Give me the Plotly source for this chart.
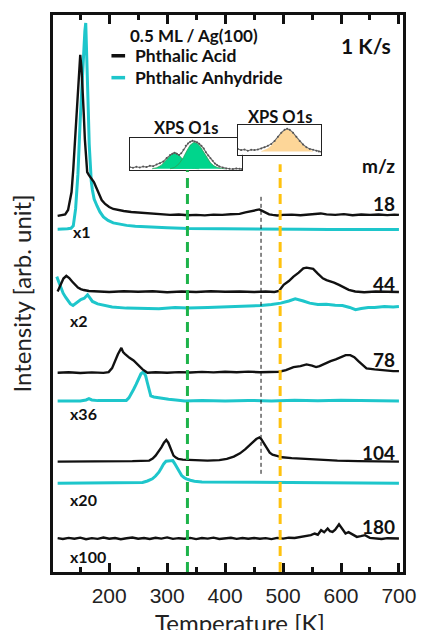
import plotly.graph_objects as go

# ---------------- data (temperature in K, intensity in arb. units, offset stacked) ----------------
acid_18_T = [111, 118, 124, 129, 132, 135, 138, 140.5, 143, 146, 148, 150, 152, 154, 156, 158, 160, 162, 165, 169,
             173.6, 178, 182, 187, 193, 200, 207, 215, 225, 238, 250, 262, 275, 290, 305, 320, 336, 350, 365, 380,
             395, 410, 425, 435, 442, 448, 454, 459, 464, 470, 476, 482, 490, 500, 515, 530, 545, 555, 565, 575,
             590, 605, 620, 635, 650, 665, 680, 692, 700]
acid_18_I = [358, 358.5, 359.5, 364, 372, 382, 405, 430, 462, 492, 508, 520, 508, 490, 462, 435, 412, 402, 399, 396,
             392, 386, 380, 374, 370, 367, 365, 364, 363, 362, 361.5, 360.5, 360, 359.5, 359, 359.5, 358.7, 359, 358.5, 359.3,
             359, 359.7, 360, 361.5, 362.5, 363.5, 364, 364.5, 363, 361, 359.5, 359, 358.5, 359, 359.3, 358.7, 359.5, 360, 360.5, 359.5,
             359, 359.8, 358.7, 359.5, 359, 359.5, 358.8, 359.3, 359]

anhydride_18_T = [111, 120, 128, 134, 138, 142, 146, 150, 153, 156, 158, 159.5, 161, 162.5, 164, 165.5, 167, 169, 171,
                  174, 179, 184, 190, 198, 207, 218, 230, 245, 260, 280, 300, 336, 380, 430, 480, 530, 580, 630, 700]
anhydride_18_I = [344.7, 344.7, 345, 345.5, 348, 365, 400, 455, 492, 525, 544, 552, 528, 500, 462, 430, 408, 393, 384,
                  375, 368, 362, 357, 353.5, 351, 349.5, 348.5, 347.5, 347, 346.5, 346, 345.3, 345, 344.8, 344.6, 344.5, 344.4, 344.3, 344.3]

acid_44_T = [111, 116, 121, 126, 131, 136, 141, 146, 151, 156, 165, 180, 200, 225, 250, 275, 300, 325, 350, 375,
             400, 425, 450, 470, 485, 493, 501, 510, 518, 527, 535, 540.5, 546, 552, 560, 568.6, 575, 580, 588, 596.6,
             605, 613.4, 624.5, 640, 660, 680, 700]
acid_44_I = [282, 289, 295, 297.7, 295.5, 292, 289, 286, 284.5, 283.5, 282.5, 282.2, 281.5, 282.3, 281.7, 282.3, 281.3, 282, 281.5, 282.3,
             281.7, 282, 281.5, 282, 281.5, 282.5, 288.7, 292.5, 297, 301, 305.3, 306, 305.5, 304.7, 300, 295.3, 293.5, 292.7, 291, 288.7,
             286, 283.7, 282, 281.3, 282, 281.5, 281.5]

anhydride_44_T = [109.5, 115, 120.5, 125, 129, 133, 137.5, 142, 146, 151, 157, 162.6, 166, 171, 180, 190.5, 205, 229.6, 260, 285.7,
                  313.6, 336, 370, 400, 430, 462, 480, 496, 510, 521, 535, 546, 560, 574.5, 590, 602.5, 615, 625, 635, 647,
                  658, 675, 690, 700]
anhydride_44_I = [297, 288, 280.3, 276, 272, 269.5, 268, 270, 272, 274, 275.3, 278.7, 276, 272, 269.5, 268, 266.5, 265.3, 264.8, 264.7,
                  266, 265.3, 265.8, 266.5, 267, 268, 269, 270.3, 272.5, 274.7, 272.5, 270.3, 269, 269.3, 268.3, 268, 266, 263.7, 265, 266,
                  266, 267, 266.5, 267]

acid_78_T = [111, 130, 150, 170, 190, 199, 205, 210, 215, 221, 224, 227, 231, 235, 242, 249, 257.6, 266, 280, 300,
             320, 340, 360, 380, 400, 420, 440, 460, 480, 493, 505, 518, 530, 540.5, 550, 557, 563, 568, 574, 582,
             591, 600, 608, 616, 623, 630, 637, 644, 658, 670, 680.6, 690, 700]
acid_78_I = [200.3, 200.8, 200, 200.7, 200.2, 201, 205, 212, 219, 225.3, 221, 219.3, 217, 215.3, 212.7, 208.7, 203.7, 200.3, 200.8, 200.3,
             201, 200.5, 201.2, 200.7, 201.3, 200.8, 201.5, 200.8, 201.3, 201.3, 203, 206, 207, 208.7, 207.5, 206, 207, 208.5, 210.3, 212,
             213.7, 216, 218, 218, 216, 212, 208, 204.7, 203.7, 203, 202.7, 202, 202]

anhydride_78_T = [111, 130, 150, 160, 165, 170, 180, 200, 215, 229.6, 234, 238, 242, 246.4, 250.5, 254.8, 259.3, 263, 265.5, 267.7,
                  270, 271.7, 277, 283, 292, 302.5, 315, 330.6, 360, 400, 440, 480, 520, 560, 600, 640, 680, 700]
anhydride_78_I = [172, 172.3, 172, 173, 174.3, 173, 172.3, 172.5, 172.2, 172.5, 175, 178.7, 183.5, 188.7, 194, 199.3, 201.3, 197, 191, 185.3,
                  180, 177, 176, 175.3, 174.5, 173.7, 173, 172, 172.3, 172, 172.5, 172, 172.6, 172.2, 172.8, 172.3, 172, 172]

acid_104_T = [111, 150, 200, 240, 269, 275, 280, 285, 290, 294.5, 298.5, 302, 305, 308, 311, 315, 319, 327, 336, 350,
              369.7, 390, 403, 415, 425.7, 435, 442.5, 448, 453.8, 459.3, 462.5, 466, 469.5, 473, 477, 481.8, 490, 498.5, 515, 537.8,
              565, 593.8, 630, 670, 700]
acid_104_I = [111, 111, 111.3, 111.5, 112, 114, 117, 121, 125.3, 130, 132.7, 130, 125.3, 121, 117, 115, 113.7, 113, 112.7, 112.3,
              112, 112.5, 113.7, 116, 119.3, 123.5, 127, 130.5, 133.7, 135.3, 133.5, 130.3, 126.5, 122.7, 120, 118, 116.5, 115.3, 114.5, 113.7,
              112.7, 112, 111.5, 111.2, 111]

anhydride_104_T = [111, 150, 200, 240, 257.6, 266, 274.5, 280, 285.7, 290, 294, 298, 301, 305, 309.7, 313, 316.5, 320.5, 325, 329,
                   333, 340, 347, 360, 400, 450, 500, 550, 600, 650, 700]
anhydride_104_I = [89.3, 89.5, 89.3, 89.6, 90, 91.5, 93.7, 96.5, 100.3, 104.5, 108.7, 111.3, 111.5, 111.3, 112, 109, 105.3, 100.5, 97, 95,
                   93.7, 92.3, 91.3, 90.5, 90.3, 90, 89.8, 89.6, 89.5, 89.4, 89.3]

acid_180_T = [111, 120, 130, 140, 150, 160, 170, 180, 190, 200, 210, 220, 230, 240, 250, 260, 270, 280, 290, 300,
              310, 320, 330, 340, 350, 360, 370, 380, 390, 400, 410, 420, 430, 440, 450, 460, 470, 480, 490, 500,
              510, 520, 532, 540, 548, 554.6, 560, 565.7, 571, 577, 581, 585.4, 590, 596.6, 602, 607.8, 613, 619, 627.4, 634,
              641.5, 649.8, 660, 670, 680, 690, 700]
acid_180_I = [34, 33.2, 34.3, 33.5, 34.5, 33, 34, 33.3, 34.6, 33.4, 34.2, 33, 33.9, 34.7, 33.5, 34.1, 33.2, 34.4, 33.6, 34.8,
              33.3, 34, 33.5, 34.3, 33.1, 34.2, 33.6, 34.5, 33.2, 33.9, 34.4, 33.3, 34.1, 33.5, 34.2, 33.4, 34, 33.1, 34.3, 33.6,
              34.5, 34.2, 35.3, 36, 37, 38.7, 37.5, 42, 40, 43.7, 41, 40.3, 42.5, 48, 43.7, 38.7, 40, 38, 35.3, 36,
              37, 34.3, 34, 33.2, 34, 33.5, 33.7]

mz_labels = ["18", "44", "78", "104", "180"]
mz_label_y = [0.6607, 0.5179, 0.382, 0.2143, 0.0821]
scale_labels = ["x1", "x2", "x36", "x20", "x100"]
scale_label_x = [0.052, 0.0418, 0.0418, 0.0418, 0.0418]
scale_label_y = [0.6107, 0.4518, 0.2839, 0.1304, 0.0286]

# reference temperatures (XPS markers) and their vertical extents
green_T, green_top = 335, 404
orange_T, orange_top = 495, 410
peak_T, peak_bottom, peak_top = 462, 98.7, 380

# XPS O1s inset data (normalised binding-energy axis 0..100, baseline-subtracted intensity)
xps1_x = [0, 3, 6, 9, 12, 15, 18, 21, 24, 27, 30, 33, 36, 38, 40, 42, 44, 46, 48, 50, 52, 54, 56, 58, 60, 62, 64,
          66, 68, 70, 72, 74, 76, 78, 80, 83, 86, 89, 92, 95, 98, 100]
xps1_y = [0.05, 0.03, 0.06, 0.04, 0.07, 0.05, 0.09, 0.08, 0.13, 0.17, 0.22, 0.33, 0.42, 0.46, 0.49, 0.46, 0.42, 0.47, 0.58,
          0.7, 0.77, 0.82, 0.85, 0.83, 0.81, 0.76, 0.7, 0.62, 0.5, 0.4, 0.32, 0.24, 0.16, 0.11, 0.07, 0.04, 0.01, 0.0, -0.01,
          0.01, 0.0, -0.01]
xps1_c1_x = [20, 24, 28, 32, 35, 38, 40, 42, 45, 48, 51, 54, 58, 62]
xps1_c1_y = [0, 0.03, 0.1, 0.24, 0.36, 0.46, 0.48, 0.47, 0.38, 0.24, 0.12, 0.05, 0.01, 0]
xps1_c2_x = [36, 40, 44, 48, 51, 54, 57, 60, 63, 66, 69, 72, 75, 78, 82, 85]
xps1_c2_y = [0, 0.04, 0.15, 0.35, 0.55, 0.72, 0.8, 0.78, 0.67, 0.5, 0.32, 0.18, 0.09, 0.04, 0.01, 0]

xps2_x = [0, 4, 8, 12, 16, 20, 24, 28, 32, 36, 40, 44, 48, 52, 56, 59, 62, 66, 70, 74, 78, 82, 86, 90, 94, 97, 100]
xps2_y = [0.09, 0.05, 0.07, 0.03, 0.06, 0.05, 0.07, 0.1, 0.15, 0.2, 0.26, 0.36, 0.5, 0.64, 0.74, 0.77, 0.74, 0.64, 0.5,
          0.36, 0.24, 0.15, 0.09, 0.06, 0.03, 0.0, -0.01]
xps2_c_x = [28, 32, 36, 40, 44, 48, 52, 56, 59, 62, 66, 70, 74, 78, 82, 86, 90]
xps2_c_y = [0, 0.04, 0.1, 0.2, 0.33, 0.48, 0.63, 0.73, 0.76, 0.74, 0.64, 0.5, 0.35, 0.22, 0.12, 0.05, 0]

# ---------------- styling ----------------
BLACK = "#111111"
CYAN = "#1EC6CB"
GREEN = "#1DB34A"
ORANGE = "#FFC20E"
FILL_GREEN = "#00D58C"
FILL_ORANGE = "#FDD698"
CAL = "Lato, 'Open Sans', sans-serif"
ARIAL = "'Liberation Sans', Arial, sans-serif"

fig = go.Figure()

acid = [(acid_18_T, acid_18_I), (acid_44_T, acid_44_I), (acid_78_T, acid_78_I),
        (acid_104_T, acid_104_I), (acid_180_T, acid_180_I)]
anh = [(anhydride_18_T, anhydride_18_I), (anhydride_44_T, anhydride_44_I),
       (anhydride_78_T, anhydride_78_I), (anhydride_104_T, anhydride_104_I)]

for (t, i), mz in zip(anh, mz_labels):
    fig.add_trace(go.Scatter(x=t, y=i, mode="lines", name="Phthalic Anhydride m/z " + mz,
                             line=dict(color=CYAN, width=3), showlegend=False))
for (t, i), mz in zip(acid, mz_labels):
    fig.add_trace(go.Scatter(x=t, y=i, mode="lines", name="Phthalic Acid m/z " + mz,
                             line=dict(color=BLACK, width=2.4), showlegend=False))

# vertical reference lines
fig.add_shape(type="line", x0=green_T, x1=green_T, y0=0, y1=green_top, xref="x", yref="y",
              line=dict(color=GREEN, width=3, dash="10px,6px"))
fig.add_shape(type="line", x0=orange_T, x1=orange_T, y0=0, y1=orange_top, xref="x", yref="y",
              line=dict(color=ORANGE, width=3, dash="10px,6px"))
fig.add_shape(type="line", x0=peak_T, x1=peak_T, y0=peak_bottom, y1=peak_top, xref="x", yref="y",
              line=dict(color=BLACK, width=1, dash="4px,3px"))

# inset 1 (green)
fig.add_trace(go.Scatter(x=xps1_c1_x, y=xps1_c1_y, xaxis="x2", yaxis="y2", mode="lines", fill="tozeroy",
                         fillcolor=FILL_GREEN, line=dict(color="#2E9E58", width=0.8), showlegend=False))
fig.add_trace(go.Scatter(x=xps1_c2_x, y=xps1_c2_y, xaxis="x2", yaxis="y2", mode="lines", fill="tozeroy",
                         fillcolor=FILL_GREEN, line=dict(color="#2E9E58", width=0.8), showlegend=False))
fig.add_trace(go.Scatter(x=xps1_x, y=xps1_y, xaxis="x2", yaxis="y2", mode="lines+markers",
                         line=dict(color="#6a6a6a", width=1.1), marker=dict(size=2, color="#555"), showlegend=False))
# inset 2 (orange)
fig.add_trace(go.Scatter(x=xps2_c_x, y=xps2_c_y, xaxis="x3", yaxis="y3", mode="lines", fill="tozeroy",
                         fillcolor=FILL_ORANGE, line=dict(color=FILL_ORANGE, width=0.5), showlegend=False))
fig.add_trace(go.Scatter(x=xps2_x, y=xps2_y, xaxis="x3", yaxis="y3", mode="lines+markers",
                         line=dict(color="#6a6a6a", width=1.1), marker=dict(size=2, color="#555"), showlegend=False))

ann = []
# legend block
ann.append(dict(text="<b>0.5 ML / Ag(100)</b>", x=0.2145, y=0.9625, xref="paper", yref="paper",
                xanchor="left", yanchor="middle", showarrow=False, font=dict(family=CAL, size=17, color=BLACK)))
ann.append(dict(text="<b>Phthalic Acid</b>", x=0.2284, y=0.9268, xref="paper", yref="paper",
                xanchor="left", yanchor="middle", showarrow=False, font=dict(family=CAL, size=17.5, color=BLACK)))
ann.append(dict(text="<b>Phthalic Anhydride</b>", x=0.2284, y=0.8875, xref="paper", yref="paper",
                xanchor="left", yanchor="middle", showarrow=False, font=dict(family=CAL, size=17.5, color=BLACK)))
fig.add_shape(type="line", x0=0.167, x1=0.206, y0=0.9268, y1=0.9268, xref="paper", yref="paper",
              line=dict(color=BLACK, width=3.5))
fig.add_shape(type="line", x0=0.167, x1=0.206, y0=0.8875, y1=0.8875, xref="paper", yref="paper",
              line=dict(color=CYAN, width=3.5))
ann.append(dict(text="<b>1 K/s</b>", x=0.972, y=0.9446, xref="paper", yref="paper",
                xanchor="right", yanchor="middle", showarrow=False, font=dict(family=CAL, size=21, color=BLACK)))
ann.append(dict(text="<b>m/z</b>", x=0.983, y=0.7304, xref="paper", yref="paper",
                xanchor="right", yanchor="middle", showarrow=False, font=dict(family=CAL, size=19, color=BLACK)))
for lab, yy in zip(mz_labels, mz_label_y):
    ann.append(dict(text="<b>%s</b>" % lab, x=0.983, y=yy, xref="paper", yref="paper",
                    xanchor="right", yanchor="middle", showarrow=False, font=dict(family=CAL, size=19, color=BLACK)))
for lab, xx, yy in zip(scale_labels, scale_label_x, scale_label_y):
    ann.append(dict(text="<b>%s</b>" % lab, x=xx, y=yy, xref="paper", yref="paper",
                    xanchor="left", yanchor="middle", showarrow=False, font=dict(family=CAL, size=16, color=BLACK)))
# inset titles
ann.append(dict(text="<b>XPS O1s</b>", x=0.3816, y=0.798, xref="paper", yref="paper",
                xanchor="center", yanchor="middle", showarrow=False, font=dict(family=CAL, size=16.5, color=BLACK)))
ann.append(dict(text="<b>XPS O1s</b>", x=0.651, y=0.816, xref="paper", yref="paper",
                xanchor="center", yanchor="middle", showarrow=False, font=dict(family=CAL, size=16.5, color=BLACK)))
# x-axis title
ann.append(dict(text="Temperature [K]", x=0.535, y=-0.061, xref="paper", yref="paper",
                xanchor="center", yanchor="top", showarrow=False, font=dict(family=CAL, size=24, color="#222")))

fig.update_layout(
    width=428, height=630,
    margin=dict(l=53, r=16, t=12, b=58, pad=0),
    paper_bgcolor="white", plot_bgcolor="white",
    showlegend=False,
    annotations=ann,
    xaxis=dict(range=[103, 707], tickmode="linear", tick0=0, dtick=100,
               ticks="inside", ticklen=9, tickwidth=2.5, tickcolor=BLACK,
               minor=dict(dtick=50, tick0=0, ticks="inside", ticklen=5, tickwidth=2.5, tickcolor=BLACK),
               showline=True, linewidth=3, linecolor=BLACK, mirror="allticks",
               showgrid=False, zeroline=False,
               tickfont=dict(family=ARIAL, size=21, color="#222"), ticklabelstandoff=3),
    yaxis=dict(range=[0, 560], showticklabels=False, ticks="",
               showline=True, linewidth=3, linecolor=BLACK, mirror=True,
               showgrid=False, zeroline=False,
               title=dict(text="Intensity [arb. unit]", font=dict(family=CAL, size=24, color="#222"), standoff=12)),
    xaxis2=dict(domain=[0.219, 0.5396], anchor="y2", range=[0, 100], showticklabels=False, ticks="",
                showline=True, linewidth=1.3, linecolor="#222", mirror=True, showgrid=False, zeroline=False),
    yaxis2=dict(domain=[0.721, 0.780], anchor="x2", range=[-0.05, 0.95], showticklabels=False, ticks="",
                showline=True, linewidth=1.3, linecolor="#222", mirror=True, showgrid=False, zeroline=False),
    xaxis3=dict(domain=[0.528, 0.767], anchor="y3", range=[0, 100], showticklabels=False, ticks="",
                showline=True, linewidth=1.3, linecolor="#222", mirror=True, showgrid=False, zeroline=False),
    yaxis3=dict(domain=[0.749, 0.802], anchor="x3", range=[-0.11, 0.89], showticklabels=False, ticks="",
                showline=True, linewidth=1.3, linecolor="#222", mirror=True, showgrid=False, zeroline=False),
)

fig.write_html("out.html", config={"displayModeBar": False},
               post_script="document.body.style.margin='0';document.body.style.overflow='hidden';")
